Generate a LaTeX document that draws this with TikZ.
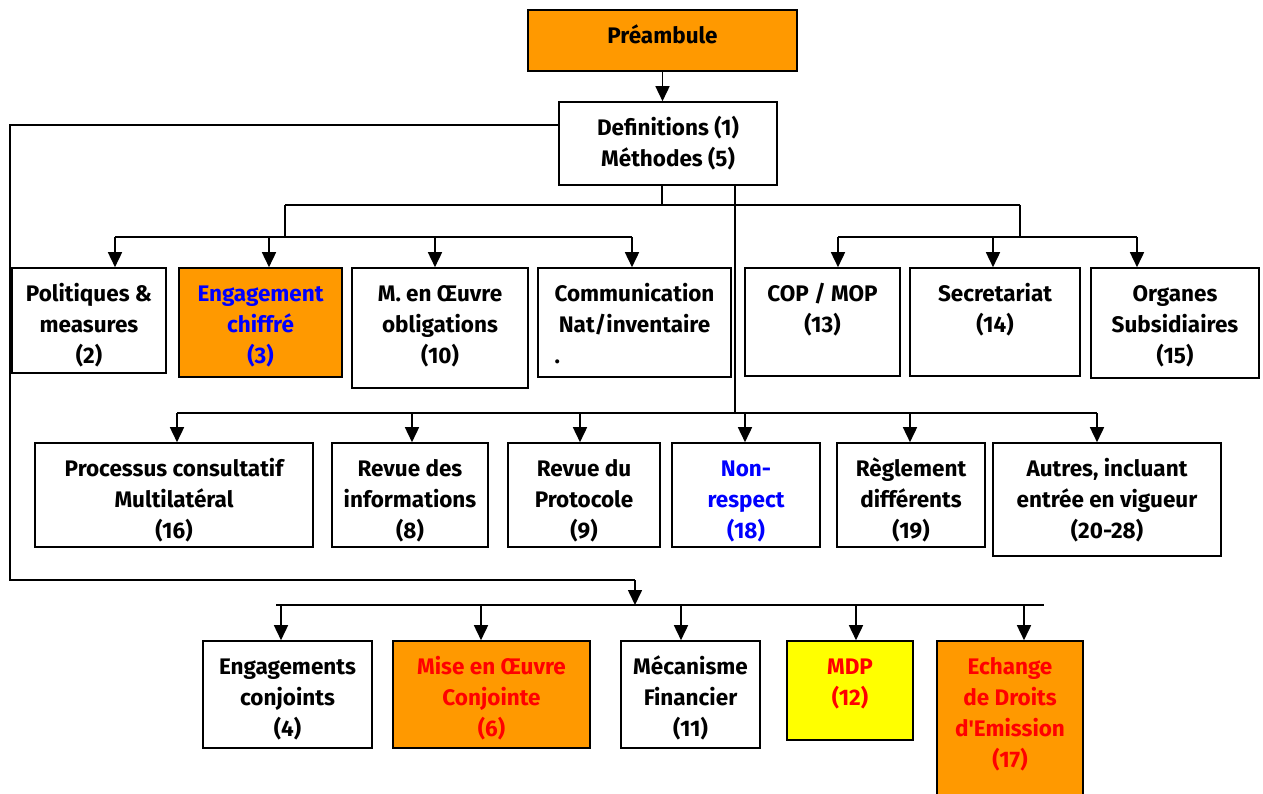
\documentclass[tikz,border=0pt]{standalone}
\usepackage{fontspec}
\setmainfont{Fira Sans}
\usetikzlibrary{arrows.meta}
\definecolor{orng}{HTML}{FF9900}
\definecolor{ylw}{HTML}{FFFF00}
\definecolor{blu}{HTML}{0000FF}
\definecolor{rd}{HTML}{FF0000}
\tikzset{
  box/.style={draw=black, line width=1.6pt, fill=white, inner sep=0pt, rectangle},
  txt/.style={anchor=north, inner sep=0pt, align=center, text=black,
    font=\fontsize{22.5}{31}\selectfont\bfseries},
  conn/.style={draw=black, line width=1.6pt},
  arr/.style={conn, -{Triangle[length=15pt,width=14pt]}},
}
% #1 name, #2 x1, #3 y1, #4 x2, #5 y2, #6 box style, #7 text style, #8 text
\newcommand\mybox[8]{%
  \node[box,#6,minimum width={(#4-#2)*1pt},minimum height={(#5-#3)*1pt}] (#1) at ({(#2+#4)/2},{(#3+#5)/2}) {};
  \node[txt,#7] (#1t) at ({(#2+#4)/2},{#3+12}) {\rule{0pt}{21pt}#8};
}
\begin{document}
\begin{tikzpicture}[x=1pt,y=-1pt]
\useasboundingbox (0,0) rectangle (1263,794);
\fill[white] (0,0) rectangle (1263,794);

\coordinate (b1) at (662,205);
\coordinate (b1l) at (285,205);
\coordinate (b1r) at (1020,205);
\coordinate (b2l) at (285,237);
\coordinate (b2r) at (1020,237);
\coordinate (b3) at (735,413);
\coordinate (lp1) at (10,125);
\coordinate (lp2) at (10,580);
\coordinate (lp3) at (635,580);
\coordinate (b4) at (635,605);

\mybox{pre}{528}{10}{797}{71}{fill=orng}{}{Préambule}
\mybox{def}{559}{102}{777}{185}{}{}{Definitions (1)\\Méthodes (5)}

\mybox{pol}{12}{268}{166}{373}{}{}{Politiques \&\\measures\\(2)}
\mybox{eng}{179}{268}{342}{377}{fill=orng}{text=blu}{Engagement\\chiffré\\(3)}
\mybox{meo}{352}{268}{528}{388}{}{}{M. en Œuvre\\obligations\\(10)}
\mybox{com}{538}{268}{731}{377}{}{}{Communication\\Nat/inventaire\\\makebox[160pt][l]{.}}
\mybox{cop}{745}{268}{900}{376}{}{}{COP / MOP\\(13)}
\mybox{sec}{910}{268}{1080}{376}{}{}{Secretariat\\(14)}
\mybox{org}{1091}{268}{1259}{378}{}{}{Organes\\Subsidiaires\\(15)}

\mybox{pcm}{35}{443}{313}{547}{}{}{Processus consultatif\\Multilatéral\\(16)}
\mybox{rdi}{332}{443}{488}{547}{}{}{Revue des\\informations\\(8)}
\mybox{rdp}{508}{443}{660}{547}{}{}{Revue du\\Protocole\\(9)}
\mybox{nrs}{672}{443}{820}{547}{}{text=blu}{Non-\\respect\\(18)}
\mybox{reg}{837}{443}{985}{547}{}{}{Règlement\\différents\\(19)}
\mybox{aut}{993}{443}{1221}{556}{}{}{Autres, incluant\\entrée en vigueur\\(20-28)}

\mybox{ecj}{203}{641}{372}{748}{}{}{Engagements\\conjoints\\(4)}
\mybox{moc}{393}{641}{590}{748}{fill=orng}{text=rd}{Mise en Œuvre\\Conjointe\\(6)}
\mybox{mfi}{621}{641}{760}{748}{}{}{Mécanisme\\Financier\\(11)}
\mybox{mdp}{787}{641}{913}{740}{fill=ylw}{text=rd}{MDP\\(12)}
\mybox{ech}{937}{641}{1083}{797}{fill=orng}{text=rd}{Echange\\de Droits\\d\textquotesingle Emission\\(17)}

% Preambule -> Definitions
\draw[arr] (pre.south) -- (def.north -| pre.south);

% first bus
\draw[conn] (def.south -| b1) -- (b1);
\draw[conn] (b1l) -- (b1r);
\draw[conn] (b1l) -- (b2l);
\draw[conn] (b1r) -- (b2r);
\draw[conn] (115,237) -- (632,237);
\draw[conn] (838,237) -- (1137,237);
\draw[arr] (115,237) -- (pol.north -| 115,0);
\draw[arr] (269,237) -- (eng.north -| 269,0);
\draw[arr] (435,237) -- (meo.north -| 435,0);
\draw[arr] (632,237) -- (com.north -| 632,0);
\draw[arr] (838,237) -- (cop.north -| 838,0);
\draw[arr] (993,237) -- (sec.north -| 993,0);
\draw[arr] (1137,237) -- (org.north -| 1137,0);

% second bus
\draw[conn] (def.south -| b3) -- (b3);
\draw[conn] (177,413) -- (1097,413);
\draw[arr] (177,413) -- (pcm.north -| 177,0);
\draw[arr] (412,413) -- (rdi.north -| 412,0);
\draw[arr] (580,413) -- (rdp.north -| 580,0);
\draw[arr] (745,413) -- (nrs.north -| 745,0);
\draw[arr] (910,413) -- (reg.north -| 910,0);
\draw[arr] (1097,413) -- (aut.north -| 1097,0);

% left loop
\draw[conn] (def.west |- lp1) -- (lp1) -- (lp2) -- (lp3);
\draw[arr] (lp3) -- (b4);

% third bus
\draw[conn] (276,605) -- (1044,605);
\draw[arr] (281,605) -- (ecj.north -| 281,0);
\draw[arr] (481,605) -- (moc.north -| 481,0);
\draw[arr] (681,605) -- (mfi.north -| 681,0);
\draw[arr] (856,605) -- (mdp.north -| 856,0);
\draw[arr] (1024,605) -- (ech.north -| 1024,0);
\end{tikzpicture}
\end{document}
